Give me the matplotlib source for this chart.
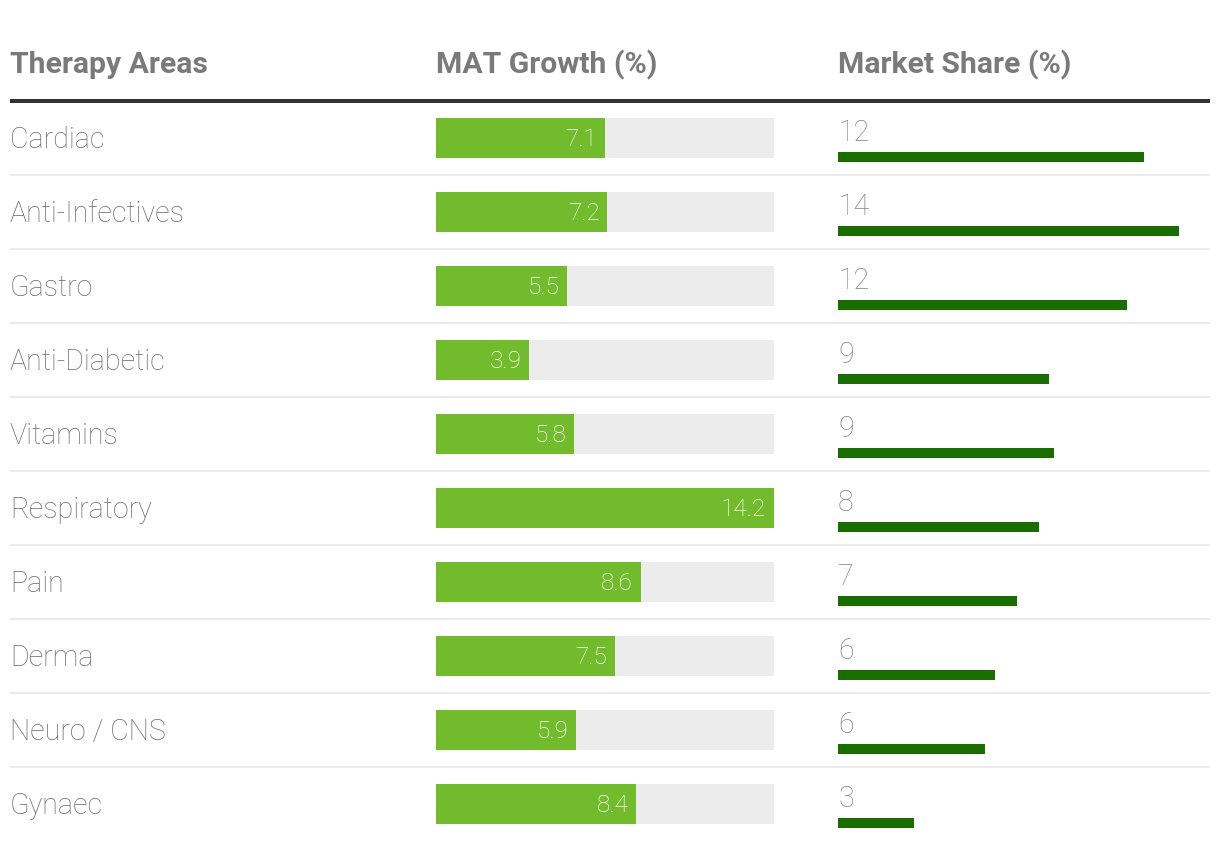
import matplotlib
matplotlib.use("Agg")
import matplotlib.pyplot as plt

# data
areas = ["Cardiac", "Anti-Infectives", "Gastro", "Anti-Diabetic", "Vitamins",
         "Respiratory", "Pain", "Derma", "Neuro / CNS", "Gynaec"]
mat_growth = [7.1, 7.2, 5.5, 3.9, 5.8, 14.2, 8.6, 7.5, 5.9, 8.4]
market_share = [12.5, 13.9, 11.8, 8.6, 8.8, 8.2, 7.3, 6.4, 6.0, 3.1]
headers = ["Therapy Areas", "MAT Growth (%)", "Market Share (%)"]

W, H = 1220, 850
DPI = 100
FONT = "Roboto"

HEAD_COLOR = "#7a7a7a"
NAME_COLOR = "#6e6e6e"
SHARE_TXT = "#858585"
GREEN = "#72bb2c"
DARK_GREEN = "#1a6e00"
TRACK = "#ececec"
SEP = "#ebebeb"


def px_axes(fig, x0, y0, x1, y1):
    # pixel box (top-left origin) -> figure axes
    return fig.add_axes([x0 / W, 1 - y1 / H, (x1 - x0) / W, (y1 - y0) / H])


def clean(ax):
    ax.set_axis_off()
    ax.set_ylim(len(areas) - 0.5, -0.5)


fig = plt.figure(figsize=(W / DPI, H / DPI), dpi=DPI)
fig.patch.set_facecolor("white")

ROW_TOP, ROW_BOT = 101, 841
n = len(areas)
rows = list(range(n))

# background: names, separators, header line
bg = px_axes(fig, 10, ROW_TOP, 1210, ROW_BOT)
clean(bg)
bg.set_xlim(0, 1)
bg.axhline(-0.5, color="#333333", lw=2.9, clip_on=False, solid_capstyle="butt")
for i in rows[:-1]:
    bg.axhline(i + 0.5, color=SEP, lw=1.5, solid_capstyle="butt")
for i, name in enumerate(areas):
    bg.text(0, i + 0.14, name, fontsize=20.6, family=FONT, fontweight="light",
            color=NAME_COLOR, va="baseline", ha="left")

# headers
for x, label in zip([10, 436, 838], headers):
    fig.text(x / W, 1 - 73 / H, label, fontsize=21.7, family=FONT,
             fontweight="bold", color=HEAD_COLOR, va="baseline", ha="left")

# MAT growth bars
g_max = max(mat_growth)
gax = px_axes(fig, 436, ROW_TOP, 774, ROW_BOT)
clean(gax)
gax.set_xlim(0, g_max)
gax.barh(rows, [g_max] * n, height=0.54, color=TRACK, lw=0)
gax.barh(rows, mat_growth, height=0.54, color=GREEN, lw=0)
for i, v in enumerate(mat_growth):
    gax.annotate(f"{v:.1f}", (v, i + 0.11), xytext=(-5.5, 0), textcoords="offset points",
                 fontsize=17.5, family=FONT, fontweight="light", color="white",
                 ha="right", va="baseline")

# market share bars
sax = px_axes(fig, 838, ROW_TOP, 1210, ROW_BOT)
clean(sax)
sax.set_xlim(0, 372 / 24.5)
sax.barh([r + 0.257 for r in rows], market_share, height=0.128, color=DARK_GREEN, lw=0)
for i, v in enumerate(market_share):
    sax.text(0, i + 0.04, f"{round(v):d}", fontsize=20.6, family=FONT, fontweight="light",
             color=SHARE_TXT, ha="left", va="baseline")

fig.savefig("out.png", dpi=DPI, facecolor="white")
